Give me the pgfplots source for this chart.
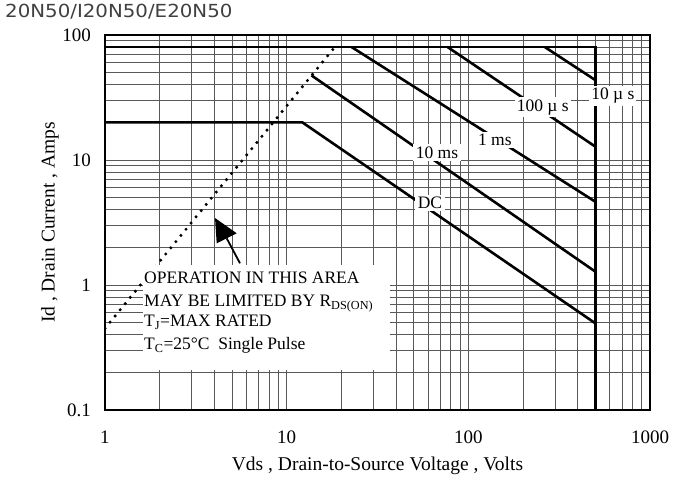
\documentclass[border=0pt]{standalone}
\usepackage{pgfplots}
\pgfplotsset{compat=1.18}
\usepackage{fontspec}
\setmainfont{Liberation Serif}
\newfontfamily\titlefont[FakeStretch=1.1]{DejaVu Sans}
\newcommand{\fs}{\fontsize{17.5pt}{21pt}\selectfont}
\newcommand{\fl}{\fontsize{19.5pt}{23pt}\selectfont}
\newcommand{\ft}{\fontsize{19pt}{23pt}\selectfont}
\begin{document}
\begin{tikzpicture}[x=1pt,y=1pt]
\useasboundingbox (-105,-70) rectangle (568,410);
\begin{axis}[at={(0,0)},anchor=south west, scale only axis,
  width=545pt, height=375pt,
  xmode=log, ymode=log, xmin=1, xmax=1000, ymin=0.1, ymax=100,
  xtick={1,10,100,1000}, xticklabels={1,10,100,1000},
  ytick={0.1,1,10,100}, yticklabels={0.1,1,10,100},
  grid=both,
  major grid style={black!65, line width=0.7pt},
  minor grid style={black!65, line width=0.7pt},
  tick style={draw=none},
  axis line style={black, line width=1.2pt},
  tick label style={font=\ft},
  xticklabel style={anchor=north, inner sep=0pt, yshift=-21pt},
  yticklabel style={anchor=east, inner sep=0pt, xshift=-14pt},
  xlabel={Vds , Drain-to-Source Voltage , Volts},
  ylabel={Id , Drain Current , Amps},
  label style={font=\fl},
  x label style={at={(axis description cs:0.5,-0.149)}, anchor=center},
  y label style={at={(axis description cs:-0.101,0.5)}, anchor=center},
  thk/.style={black, solid, mark=none, line width=2.6pt, line join=miter},
]
% max current line and 500 V limit
\addplot[thk] coordinates {(1,80) (500,80) (500,0.1)};
% 10 us
\addplot[thk] coordinates {(264,80) (500,43.6)};
% 100 us
\addplot[thk] coordinates {(77,80) (500,12.8)};
% 1 ms
\addplot[thk] coordinates {(22.8,80) (500,4.64)};
% 10 ms
\addplot[thk] coordinates {(13.7,47.5) (500,1.28)};
% DC
\addplot[thk] coordinates {(1,20) (12.2,20) (500,0.494)};
% RDS(on) limit
\addplot[black, mark=none, line width=3.4pt, dash pattern=on 0pt off 8pt, line cap=round] coordinates {(1,0.45) (18.4,80)};

\node[fill=white, inner sep=2pt, font=\fs] at (axis cs:257,26.5) {100 µ s};
\node[fill=white, inner sep=2pt, font=\fs] at (axis cs:625,32.5) {10 µ s};
\node[fill=white, inner sep=2pt, font=\fs] at (axis cs:140,14.5) {1 ms};
\node[fill=white, inner sep=2.5pt, font=\fs] at (axis cs:67.2,11.4) {10 ms};
\node[fill=white, inner sep=2.5pt, font=\fs] at (axis cs:61.5,4.53) {DC};
\end{axis}
% annotation box
\fill[white] (38,40) rectangle (285,145);
\node[anchor=base west, inner sep=0pt, font=\fs] at (39,126) {OPERATION IN THIS AREA};
\node[anchor=base west, inner sep=0pt, font=\fs] at (39,103) {MAY BE LIMITED BY R\textsubscript{DS(ON)}};
\node[anchor=base west, inner sep=0pt, font=\fs] at (39,83) {T\textsubscript{J}=MAX RATED};
\node[anchor=base west, inner sep=0pt, font=\fs] at (39,60) {T\textsubscript{C}=25°C\ \ Single Pulse};
\draw[line width=1.8pt] (135,146.7) -- (121.7,171.7);
\fill (110,192) -- (131.7,176.7) -- (111.7,166.7) -- cycle;
% title
\node[anchor=west, inner sep=0pt, text=black!75, font=\titlefont\fontsize{18pt}{21pt}\selectfont] at (-100,398) {20N50/I20N50/E20N50};
\end{tikzpicture}
\end{document}
